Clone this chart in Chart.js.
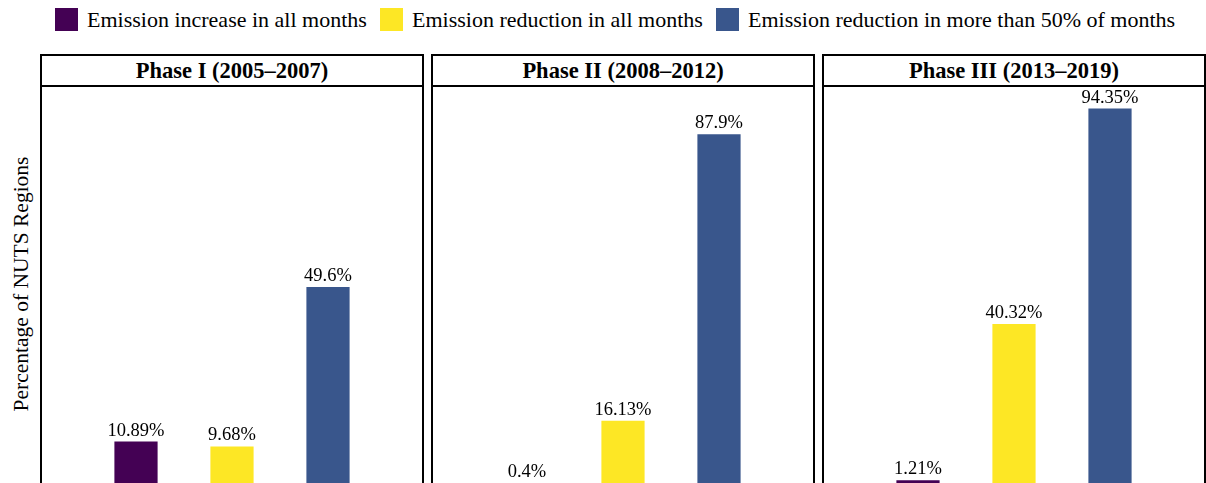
<!DOCTYPE html>
<html>
<head>
<meta charset="utf-8">
<script src="https://cdn.jsdelivr.net/npm/chart.js@4.4.1/dist/chart.umd.min.js"></script>
<style>
  html, body { margin: 0; padding: 0; background: #fff; }
  body { width: 1206px; height: 483px; overflow: hidden; position: relative; font-family: "Liberation Serif", "Times New Roman", serif; color: #000; }
  .legend { position: absolute; top: 0; left: 0; height: 40px; width: 1206px; }
  .lg-item { position: absolute; top: 8px; height: 23px; display: flex; align-items: center; white-space: nowrap; font-size: 22px; }
  .lg-sw { width: 23px; height: 23px; margin-right: 9px; flex: none; }
  .ytitle { position: absolute; left: 21px; top: 284px; transform: translate(-50%, -50%) rotate(-90deg); font-size: 21.5px; white-space: nowrap; }
  .strip { position: absolute; top: 54px; height: 33px; box-sizing: border-box; border: 2px solid #000; display: flex; align-items: center; justify-content: center; font-weight: bold; font-size: 22.5px; white-space: nowrap; }
  .body { position: absolute; top: 86px; height: 420px; box-sizing: border-box; border-left: 2px solid #000; border-right: 2px solid #000; border-bottom: 2px solid #000; }
  canvas.panel { position: absolute; top: 86px; }
</style>
</head>
<body>
<div class="legend" id="legend"></div>
<div class="ytitle">Percentage of NUTS Regions</div>
<div id="panels"></div>
<script>
// ---- data ----
const categories = ["Emission increase in all months", "Emission reduction in all months", "Emission reduction in more than 50% of months"];
const phases = ["Phase I (2005\u20132007)", "Phase II (2008\u20132012)", "Phase III (2013\u20132019)"];
const phase1Values = [10.89, 9.68, 49.6];
const phase2Values = [0.4, 16.13, 87.9];
const phase3Values = [1.21, 40.32, 94.35];
const yTicks = [0, 100];
const colors = ["#440154", "#FDE725", "#39568C"];

const panelValues = [phase1Values, phase2Values, phase3Values];
const panelLefts = [40, 431, 822];
const panelWidth = 384;

// ---- legend (HTML) ----
const legendLefts = [55, 380, 716];
const legend = document.getElementById('legend');
categories.forEach((c, i) => {
  const item = document.createElement('div');
  item.className = 'lg-item';
  item.style.left = legendLefts[i] + 'px';
  const sw = document.createElement('span');
  sw.className = 'lg-sw';
  sw.style.background = colors[i];
  const tx = document.createElement('span');
  tx.textContent = c;
  item.appendChild(sw); item.appendChild(tx);
  legend.appendChild(item);
});

// ---- value label plugin ----
const valueLabels = {
  id: 'valueLabels',
  afterDatasetsDraw(chart) {
    const ctx = chart.ctx;
    ctx.save();
    ctx.font = '18.5px "Liberation Serif", "Times New Roman", serif';
    ctx.fillStyle = '#000';
    ctx.textAlign = 'center';
    ctx.textBaseline = 'alphabetic';
    chart.getDatasetMeta(0).data.forEach((bar, i) => {
      const v = chart.data.datasets[0].data[i];
      if (v === null || v === undefined) return;
      ctx.fillText(v + '%', bar.x, bar.y - 6);
    });
    ctx.restore();
  }
};

const panelsDiv = document.getElementById('panels');
phases.forEach((title, p) => {
  const left = panelLefts[p];
  const strip = document.createElement('div');
  strip.className = 'strip';
  strip.style.left = left + 'px';
  strip.style.width = panelWidth + 'px';
  strip.textContent = title;
  panelsDiv.appendChild(strip);

  const bodyDiv = document.createElement('div');
  bodyDiv.className = 'body';
  bodyDiv.style.left = left + 'px';
  bodyDiv.style.width = panelWidth + 'px';
  panelsDiv.appendChild(bodyDiv);

  const cv = document.createElement('canvas');
  cv.className = 'panel';
  cv.width = panelWidth;
  cv.height = 399;
  cv.style.left = left + 'px';
  cv.style.width = panelWidth + 'px';
  cv.style.height = '399px';
  panelsDiv.appendChild(cv);

  const vals = panelValues[p];
  new Chart(cv.getContext('2d'), {
    type: 'bar',
    data: {
      labels: ['', categories[0], categories[1], categories[2], ''],
      datasets: [{
        data: [null, vals[0], vals[1], vals[2], null],
        backgroundColor: ['#fff', colors[0], colors[1], colors[2], '#fff'],
        borderWidth: 0,
        categoryPercentage: 1,
        barPercentage: 0.45
      }]
    },
    options: {
      responsive: false,
      maintainAspectRatio: false,
      animation: false,
      layout: { padding: 0 },
      plugins: { legend: { display: false }, tooltip: { enabled: false } },
      scales: {
        x: { type: 'category', offset: false, display: false },
        y: { min: yTicks[0], max: yTicks[yTicks.length - 1], display: false }
      }
    },
    plugins: [valueLabels]
  });
});
</script>
</body>
</html>
